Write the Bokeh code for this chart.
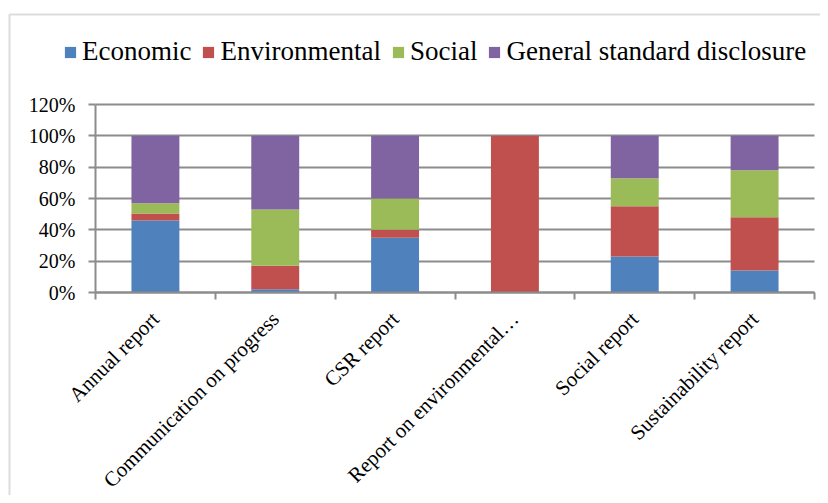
import math
from bokeh.plotting import figure
from bokeh.models import (Range1d, FixedTicker, PrintfTickFormatter, Legend, LegendItem,
                          ColumnDataSource, BoxAnnotation, Grid)
from bokeh.embed import file_html
from bokeh.resources import INLINE

categories = ["Annual report", "Communication on progress", "CSR report",
              "Report on environmental\u2026", "Social report", "Sustainability report"]
economic = [46, 2, 35, 0, 23, 14]
environmental = [4.5, 15, 5, 100, 32, 34]
social = [6.5, 36, 20, 0, 18, 30]
general = [43, 47, 40, 0, 27, 22]
series_names = ["Economic", "Environmental", "Social", "General standard disclosure"]
colors = ["#4F81BD", "#C0504D", "#9BBB59", "#8064A2"]
y_ticks = [0, 20, 40, 60, 80, 100, 120]

FONT = "Liberation Serif"
GRAY = "#8c8c8c"

# canvas geometry (pixels inside the figure canvas)
W, H = 820, 495
AX_LEFT, AX_RIGHT = 95, 814      # canvas x of category range start / end
AX_TOP, AX_BOTTOM = 104, 292     # canvas y of 120% / 0%
BORDER_X, BORDER_Y = 9, 14       # outer chart-area border
N = len(categories)
YMAX = y_ticks[-1]
xs = (AX_RIGHT - AX_LEFT) / N
ys = (AX_BOTTOM - AX_TOP) / YMAX
x_start, x_end = -AX_LEFT / xs, N + (W - AX_RIGHT) / xs
y_end, y_start = YMAX + AX_TOP / ys, -(H - AX_BOTTOM) / ys

xpos = [i + 0.5 for i in range(N)]
src = ColumnDataSource(dict(x=xpos, Economic=economic, Environmental=environmental,
                            Social=social, **{"General standard disclosure": general}))

p = figure(width=W, height=H, output_backend="svg", toolbar_location=None,
           x_range=Range1d(x_start, x_end), y_range=Range1d(y_start, y_end),
           min_border_left=0, min_border_right=0, min_border_top=0, min_border_bottom=0)
p.outline_line_color = None
p.background_fill_color = "white"
p.border_fill_color = "white"

# outer chart-area border (top and left visible)
p.add_layout(BoxAnnotation(left=x_start + BORDER_X / xs, top=y_end - BORDER_Y / ys,
                           right=x_end + 1, bottom=y_start - 1,
                           fill_alpha=0, line_color=GRAY, line_width=2))

# grid
p.xgrid.visible = False
p.ygrid.ticker = FixedTicker(ticks=y_ticks)
p.ygrid.grid_line_color = GRAY
p.ygrid.grid_line_width = 2
if "cross_bounds" in Grid.properties():
    p.ygrid.cross_bounds = (0, N)
else:
    p.ygrid.visible = False
    p.segment(x0=[0] * len(y_ticks), x1=[N] * len(y_ticks), y0=y_ticks, y1=y_ticks,
              line_color=GRAY, line_width=2)

rs = p.vbar_stack(series_names, x="x", width=0.4, source=src, color=colors, line_color=None)

# y axis
p.yaxis.fixed_location = 0
p.yaxis.bounds = (0, YMAX)
p.yaxis.ticker = FixedTicker(ticks=y_ticks)
p.yaxis.formatter = PrintfTickFormatter(format="%d%%")
p.yaxis.axis_line_color = GRAY
p.yaxis.axis_line_width = 2
p.yaxis.major_tick_line_color = GRAY
p.yaxis.major_tick_line_width = 2
p.yaxis.major_tick_out = 7
p.yaxis.major_tick_in = 0
p.yaxis.minor_tick_line_color = None
p.yaxis.major_label_text_font = FONT
p.yaxis.major_label_text_font_size = "20px"
p.yaxis.major_label_text_color = "black"
p.yaxis.major_label_standoff = 13

# x axis
p.xaxis.fixed_location = 0
p.xaxis.bounds = (0, N)
p.xaxis.ticker = FixedTicker(ticks=xpos, minor_ticks=list(range(N + 1)))
p.xaxis.major_label_overrides = {x: c for x, c in zip(xpos, categories)}
p.xaxis.major_label_orientation = math.pi / 4
p.xaxis.axis_line_color = GRAY
p.xaxis.axis_line_width = 2
p.xaxis.major_tick_line_color = None
p.xaxis.major_tick_out = 0
p.xaxis.major_tick_in = 0
p.xaxis.minor_tick_line_color = GRAY
p.xaxis.minor_tick_line_width = 2
p.xaxis.minor_tick_out = 7
p.xaxis.minor_tick_in = 0
p.xaxis.major_label_text_font = FONT
p.xaxis.major_label_text_font_size = "21px"
p.xaxis.major_label_text_color = "black"
p.xaxis.major_label_standoff = 16

legend = Legend(items=[LegendItem(label=n, renderers=[r]) for n, r in zip(series_names, rs)],
                orientation="horizontal", location=(63, 428),
                glyph_width=14, glyph_height=14, label_standoff=5, spacing=10,
                padding=0, margin=0, border_line_color=None, background_fill_alpha=0,
                label_text_font=FONT, label_text_font_size="27px",
                label_text_color="black", label_height=26)
p.add_layout(legend, "center")

open("out.html", "w").write(file_html(p, INLINE))
